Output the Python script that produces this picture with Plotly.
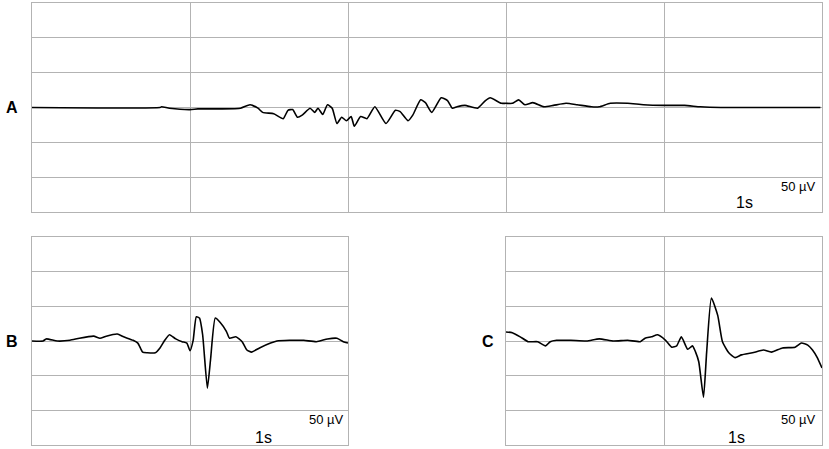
import plotly.graph_objects as go

# Panel A (time in s, amplitude in µV; 1 s and 50 µV per division)
a_t = [0.00, 0.81, 0.82, 0.87, 1.00, 1.05, 1.19, 1.32, 1.38, 1.43, 1.46, 1.53, 1.59, 1.62, 1.65,
       1.68, 1.71, 1.76, 1.79, 1.81, 1.84, 1.87, 1.90, 1.93, 1.96, 1.99, 2.02, 2.04, 2.08,
       2.12, 2.17, 2.24, 2.30, 2.33, 2.38, 2.41, 2.46, 2.49, 2.53, 2.59, 2.63, 2.66, 2.69,
       2.74, 2.82, 2.87, 2.90, 2.97, 3.00, 3.04, 3.08, 3.12, 3.17, 3.24, 3.30, 3.38, 3.45,
       3.54, 3.59, 3.66, 3.77, 3.87, 4.00, 4.13, 4.23, 4.36, 4.51, 4.72, 4.99]
a_v = [0, 0, 1, -1, -3, -2, -2, -1, 4, -1, -7, -9, -16, -4, -3,
       -14, -11, -1, -7, -1, -10, 4, -1, -23, -14, -19, -13, -27, -13,
       -16, 1, -23, -4, -6, -19, -11, 11, 7, -7, 14, 10, -1, 1,
       3, -1, 10, 14, 6, 6, 6, 11, 4, 7, 1, 3, 6, 4,
       1, 1, 6, 6, 4, 3, 3, 1, 0, 0, 0, 0]

# Panel B
b_t = [0.00, 0.07, 0.09, 0.16, 0.24, 0.30, 0.39, 0.43, 0.47, 0.54, 0.58, 0.64, 0.67, 0.70,
       0.73, 0.78, 0.81, 0.84, 0.87, 0.91, 0.95, 0.98, 1.00, 1.02, 1.04, 1.06, 1.08, 1.11,
       1.13, 1.16, 1.19, 1.23, 1.25, 1.29, 1.33, 1.36, 1.39, 1.44, 1.51, 1.55, 1.63, 1.72,
       1.80, 1.87, 1.93, 1.97, 2.00]
b_v = [0, 0, 3, 0, 1, 4, 7, 4, 7, 10, 6, 1, -3, -16,
       -17, -17, -10, 1, 9, 3, -1, -3, -14, 1, 35, 33, 9, -68,
       -27, 33, 27, 14, 4, 6, -1, -13, -16, -10, -3, 0, 1, 1,
       -1, 3, 4, -1, -3]

# Panel C
c_t = [0.00, 0.04, 0.09, 0.14, 0.20, 0.25, 0.28, 0.32, 0.41, 0.51, 0.59, 0.68, 0.77, 0.85,
       0.88, 0.92, 0.96, 1.01, 1.05, 1.08, 1.11, 1.15, 1.18, 1.20, 1.22, 1.25, 1.27, 1.30,
       1.34, 1.37, 1.41, 1.45, 1.49, 1.56, 1.63, 1.68, 1.75, 1.83, 1.87, 1.91, 1.94, 1.97, 2.00]
c_v = [13, 12, 6, -1, -1, -7, -1, 1, 1, 0, 3, 0, 1, -1,
       4, 6, 9, 1, -9, -7, 6, -12, -7, -16, -30, -81, -16, 62,
       37, -1, -17, -24, -20, -17, -13, -16, -10, -9, -3, -6, -13, -24, -39]

panel_labels = ["A", "B", "C"]
scale_v = "50 µV"
scale_t = "1s"

W, H = 829, 449
def fx(p): return p / W
def fy(p): return 1 - p / H

GRID = "#b3b3b3"
fig = go.Figure()
panels = [
    ("x", "y", a_t, a_v, 5, (32, 822), (3, 212)),
    ("x2", "y2", b_t, b_v, 2, (32, 348), (237, 445)),
    ("x3", "y3", c_t, c_v, 2, (506, 822), (237, 445)),
]
layout = {}
for i, (xa, ya, t, v, n, (l, r), (tp, bt)) in enumerate(panels):
    fig.add_trace(go.Scatter(x=t, y=v, mode="lines", xaxis=xa, yaxis=ya,
                             line=dict(color="black", width=1.6, shape="spline", smoothing=0.5),
                             showlegend=False, hoverinfo="skip"))
    sx = "xaxis" if i == 0 else f"xaxis{i+1}"
    sy = "yaxis" if i == 0 else f"yaxis{i+1}"
    layout[sx] = dict(domain=[fx(l), fx(r)], range=[0, n], dtick=1, showgrid=True,
                      gridcolor=GRID, gridwidth=1, zeroline=False, showticklabels=False,
                      ticks="", showline=True, linecolor=GRID, mirror=True, anchor=ya,
                      fixedrange=True)
    layout[sy] = dict(domain=[fy(bt), fy(tp)], range=[-150, 150], dtick=50, showgrid=True,
                      gridcolor=GRID, gridwidth=1, zeroline=False, showticklabels=False,
                      ticks="", showline=True, linecolor=GRID, mirror=True, anchor=xa,
                      fixedrange=True)

ann = []
lab_pos = [(12, 107), (12, 341), (488, 341)]
for lab, (px, py) in zip(panel_labels, lab_pos):
    ann.append(dict(text=f"<b>{lab}</b>", x=fx(px), y=fy(py), xref="paper", yref="paper",
                    showarrow=False, xanchor="center", yanchor="middle",
                    font=dict(size=16, color="black", family="Liberation Sans, Arial")))
for (vx, vy, tx, ty) in [(818, 186, 744, 203), (346, 419, 263, 437), (818, 419, 736, 437)]:
    ann.append(dict(text=scale_v, x=fx(vx), y=fy(vy), xref="paper", yref="paper",
                    showarrow=False, xanchor="right", yanchor="middle",
                    font=dict(size=13, color="black", family="Liberation Sans, Arial")))
    ann.append(dict(text=scale_t, x=fx(tx), y=fy(ty), xref="paper", yref="paper",
                    showarrow=False, xanchor="center", yanchor="middle",
                    font=dict(size=16, color="black", family="Liberation Sans, Arial")))

fig.update_layout(width=W, height=H, margin=dict(l=0, r=0, t=0, b=0),
                  paper_bgcolor="white", plot_bgcolor="white", annotations=ann, **layout)
fig.write_html("out.html", config={"displayModeBar": False},
               post_script="document.body.style.margin='0';document.body.style.overflow='hidden';")
